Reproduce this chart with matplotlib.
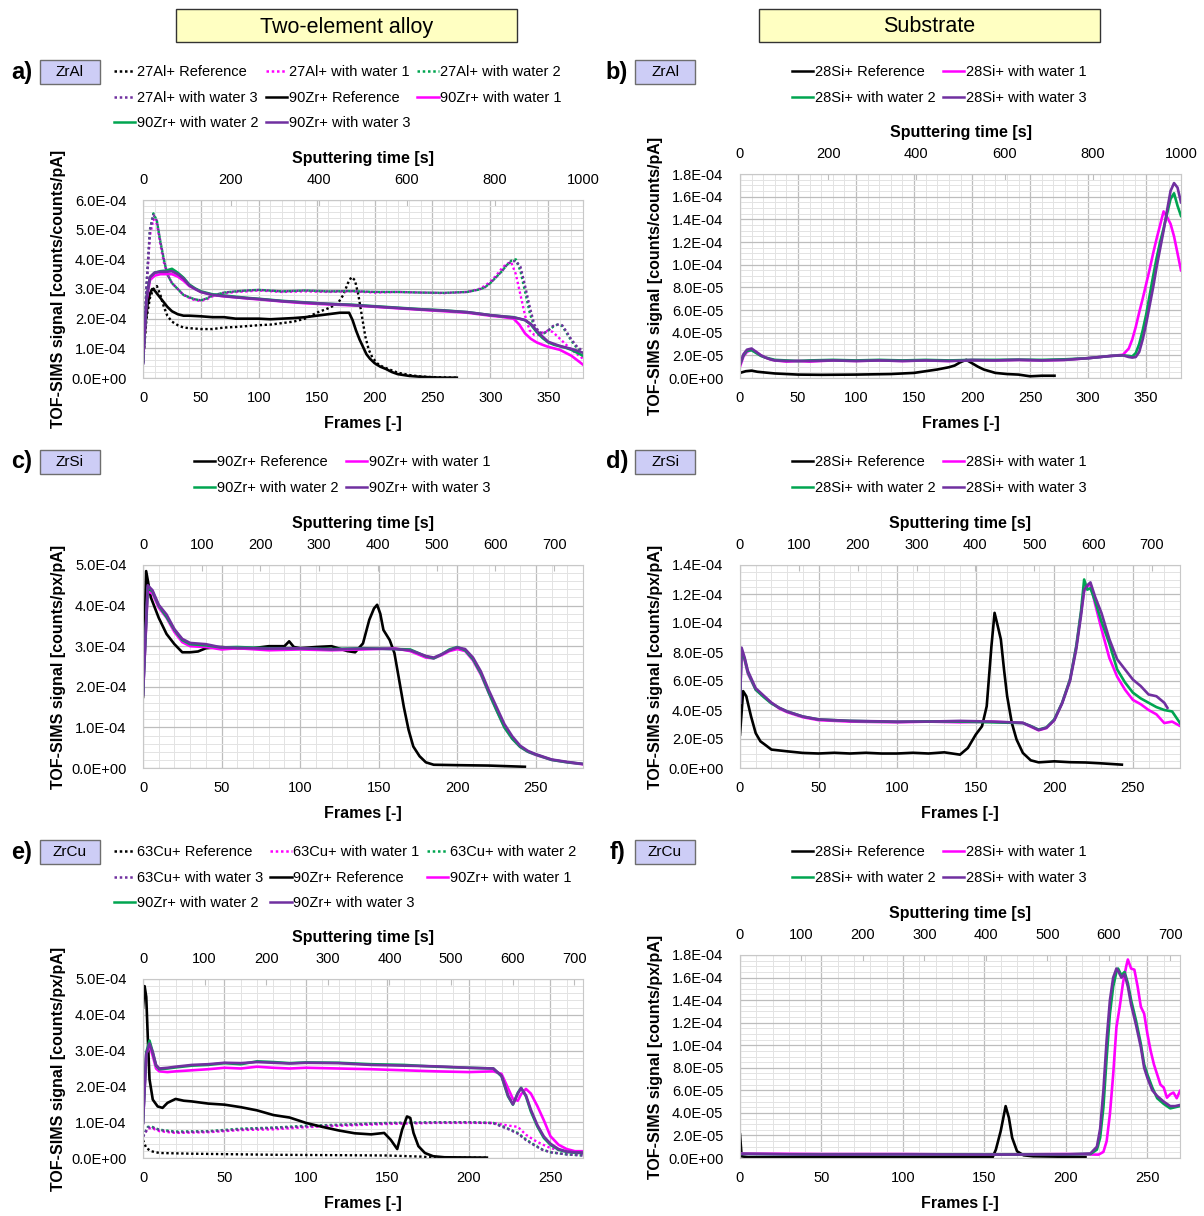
import matplotlib
matplotlib.use("Agg")
import matplotlib.pyplot as plt
from matplotlib.lines import Line2D
from matplotlib.patches import Rectangle
from matplotlib.ticker import MultipleLocator, FuncFormatter, FixedLocator
from matplotlib import font_manager

# ======================= DATA =======================
# Panel a (ZrAl, two-element alloy), signal in 1e-4 counts/counts/pA
A_ZR_REF_X = [0,2,4,6,8,10,12,15,18,21,25,30,35,40,50,60,70,80,90,100,110,120,130,140,150,160,170,178,181,184,187,190,193,196,200,205,210,215,220,230,240,250,260,271]
A_ZR_REF_Y = [0.6,1.8,2.5,2.85,3.0,2.95,2.85,2.7,2.55,2.4,2.25,2.15,2.1,2.1,2.08,2.05,2.05,2.0,2.0,2.0,1.98,2.0,2.02,2.05,2.1,2.15,2.2,2.2,1.95,1.6,1.3,1.05,0.8,0.65,0.5,0.38,0.3,0.2,0.13,0.07,0.04,0.02,0.01,0.01]
A_AL_REF_X = [0,3,6,9,12,15,18,21,25,30,35,40,50,60,70,80,90,100,110,120,130,140,150,160,168,173,177,180,183,186,189,192,195,198,202,207,212,220,230,240,250,260,271]
A_AL_REF_Y = [0.5,2.0,2.7,3.0,3.1,2.8,2.4,2.1,1.9,1.78,1.7,1.68,1.65,1.65,1.7,1.72,1.75,1.78,1.8,1.85,1.9,2.0,2.2,2.35,2.5,2.8,3.2,3.4,3.3,2.8,2.1,1.4,0.95,0.7,0.5,0.38,0.3,0.18,0.1,0.05,0.03,0.02,0.01]
A_AL_W_X = [0,3,6,9,12,15,18,21,25,30,35,40,45,50,55,60,70,80,90,100,120,140,160,180,200,220,240,260,280,290,295,300,305,310,314,318,322,326,330,334,338,342,346,350,354,358,362,366,370,375,380]
A_AL_W1_Y = [0.5,3.0,4.8,5.35,5.2,4.5,3.9,3.5,3.2,3.0,2.8,2.7,2.62,2.6,2.65,2.75,2.85,2.9,2.92,2.95,2.9,2.92,2.9,2.92,2.88,2.9,2.88,2.86,2.9,3.0,3.1,3.25,3.45,3.7,3.85,3.9,3.5,2.8,2.1,1.6,1.45,1.45,1.55,1.6,1.55,1.4,1.25,1.1,0.95,0.8,0.65]
A_AL_W2_Y = [0.5,3.1,5.0,5.55,5.3,4.6,4.0,3.5,3.2,3.0,2.8,2.72,2.65,2.62,2.68,2.78,2.88,2.92,2.95,2.97,2.92,2.95,2.92,2.93,2.9,2.9,2.88,2.87,2.9,2.98,3.05,3.2,3.4,3.6,3.8,3.95,4.0,3.6,2.9,2.2,1.7,1.5,1.5,1.6,1.72,1.8,1.75,1.5,1.25,1.0,0.85]
A_AL_W3_Y = [0.5,3.1,5.0,5.5,5.3,4.6,4.0,3.5,3.2,3.0,2.8,2.72,2.65,2.62,2.68,2.78,2.88,2.92,2.95,2.97,2.92,2.95,2.92,2.93,2.9,2.9,2.88,2.87,2.9,2.98,3.05,3.2,3.4,3.6,3.8,3.92,3.95,3.75,3.1,2.4,1.8,1.55,1.5,1.6,1.75,1.8,1.78,1.55,1.3,1.05,0.9]
A_ZR_W_X = [0,3,6,10,15,20,25,30,35,40,45,50,60,70,80,90,100,120,140,160,180,200,220,240,260,280,300,310,320,325,330,335,340,345,350,355,360,365,370,375,380]
A_ZR_W1_Y = [0.5,2.6,3.3,3.45,3.5,3.5,3.5,3.42,3.28,3.1,3.0,2.9,2.8,2.75,2.72,2.68,2.65,2.58,2.52,2.48,2.45,2.4,2.35,2.3,2.25,2.2,2.1,2.06,2.0,1.8,1.5,1.32,1.2,1.12,1.05,1.0,0.95,0.85,0.75,0.6,0.45]
A_ZR_W2_Y = [0.5,2.7,3.4,3.55,3.6,3.62,3.68,3.55,3.38,3.15,3.02,2.92,2.82,2.78,2.74,2.7,2.67,2.6,2.55,2.5,2.47,2.42,2.37,2.32,2.28,2.22,2.12,2.08,2.05,2.0,1.95,1.8,1.55,1.35,1.2,1.12,1.07,1.02,0.95,0.85,0.75]
A_ZR_W3_Y = [0.5,2.7,3.4,3.55,3.58,3.58,3.6,3.5,3.35,3.12,3.0,2.9,2.8,2.76,2.72,2.69,2.66,2.59,2.54,2.5,2.46,2.41,2.36,2.31,2.27,2.22,2.12,2.08,2.04,2.0,1.95,1.82,1.6,1.4,1.22,1.15,1.08,1.03,0.98,0.92,0.85]

# Panel b (ZrAl, substrate), 1e-5
B_REF_X = [0,5,10,15,20,30,50,70,100,130,150,160,170,180,185,190,195,200,205,210,220,230,240,250,260,271]
B_REF_Y = [0.45,0.6,0.65,0.55,0.5,0.4,0.3,0.28,0.3,0.35,0.45,0.6,0.75,0.95,1.1,1.4,1.6,1.3,1.0,0.75,0.45,0.35,0.3,0.15,0.2,0.2]
B_W_X = [0,3,6,10,14,18,22,26,30,40,50,60,80,100,120,140,160,180,200,220,240,260,280,300,310,320,330,335,338,341,344,347,350,353,356,359,362,365,368,371,374,377,380]
B_W1_Y = [1.0,1.9,2.3,2.5,2.3,2.0,1.8,1.65,1.55,1.45,1.5,1.45,1.55,1.5,1.55,1.5,1.55,1.5,1.6,1.55,1.6,1.55,1.6,1.75,1.85,1.95,2.05,2.6,3.4,4.5,5.8,7.0,8.3,9.6,11.0,12.3,13.5,14.7,14.2,13.6,12.5,11.0,9.5]
B_W2_Y = [1.2,2.0,2.4,2.45,2.2,1.95,1.8,1.7,1.6,1.55,1.5,1.55,1.6,1.55,1.6,1.55,1.6,1.55,1.6,1.6,1.62,1.6,1.65,1.75,1.85,1.95,2.0,1.95,1.9,2.2,3.0,4.2,5.6,7.3,9.0,10.6,12.0,13.2,14.5,15.8,16.3,15.2,14.3]
B_W3_Y = [1.2,2.1,2.5,2.6,2.3,2.0,1.8,1.65,1.55,1.5,1.5,1.5,1.55,1.5,1.55,1.5,1.55,1.5,1.55,1.55,1.6,1.55,1.6,1.75,1.85,1.95,2.0,1.85,1.8,1.85,2.3,3.4,4.8,6.4,8.0,9.8,11.4,13.0,14.8,16.5,17.2,16.8,15.5]

# Panel c (ZrSi, alloy), 1e-4
C_REF_X = [0,2,5,10,15,20,25,30,35,40,50,60,70,80,90,93,96,100,110,120,130,135,140,144,147,149,151,153,157,160,163,166,169,172,176,180,185,200,220,243]
C_REF_Y = [1.75,4.85,4.2,3.7,3.3,3.05,2.85,2.85,2.87,2.95,2.98,2.95,2.95,3.0,3.0,3.12,2.98,2.95,2.98,3.0,2.88,2.85,3.07,3.65,3.93,4.02,3.8,3.4,3.15,2.83,2.17,1.5,0.94,0.53,0.29,0.14,0.08,0.07,0.06,0.03]
C_W_X = [0,3,6,10,15,20,25,30,40,50,60,80,100,120,140,160,170,180,185,190,195,200,205,210,215,220,225,230,235,240,245,250,260,270,280]
C_W1_Y = [1.8,4.35,4.3,3.95,3.7,3.35,3.1,3.0,2.98,2.92,2.95,2.9,2.92,2.9,2.92,2.95,2.88,2.72,2.7,2.78,2.88,2.93,2.88,2.65,2.3,1.85,1.42,1.0,0.72,0.52,0.4,0.32,0.2,0.14,0.09]
C_W2_Y = [1.8,4.45,4.35,4.0,3.72,3.4,3.15,3.05,3.02,2.97,2.98,2.95,2.95,2.93,2.95,2.93,2.92,2.75,2.7,2.8,2.92,2.98,2.9,2.68,2.33,1.86,1.42,1.0,0.72,0.52,0.4,0.33,0.2,0.14,0.1]
C_W3_Y = [1.8,4.5,4.38,4.02,3.78,3.42,3.18,3.08,3.05,2.97,2.96,2.94,2.95,2.92,2.94,2.93,2.9,2.76,2.72,2.8,2.9,2.97,2.93,2.72,2.38,1.92,1.5,1.08,0.78,0.55,0.42,0.34,0.21,0.15,0.1]

# Panel d (ZrSi, substrate), 1e-5
D_REF_X = [0,2,4,7,10,13,16,20,30,40,50,60,70,80,90,100,110,120,130,140,145,150,154,157,160,162,164,166,168,170,173,176,180,185,190,200,210,220,230,243]
D_REF_Y = [2.3,5.3,4.95,3.57,2.4,1.84,1.6,1.27,1.15,1.04,1.0,1.05,1.0,1.05,1.0,1.0,1.05,1.0,1.08,0.92,1.38,2.3,2.88,4.26,8.4,10.7,9.8,8.87,6.8,4.95,3.1,1.96,1.04,0.53,0.39,0.46,0.4,0.38,0.32,0.23]
D_W_X = [0,1,3,5,10,15,20,25,30,40,50,70,100,120,140,160,180,185,190,195,200,205,210,214,217,219,221,223,226,230,235,240,245,250,255,260,265,270,275,280]
D_W1_Y = [4.5,8.0,7.4,6.5,5.4,4.95,4.5,4.1,3.85,3.5,3.3,3.2,3.15,3.2,3.15,3.2,3.1,2.85,2.6,2.75,3.3,4.5,6.1,8.4,10.7,12.2,12.5,12.7,11.3,9.6,7.6,6.3,5.4,4.7,4.4,4.0,3.7,3.1,3.2,2.9]
D_W2_Y = [4.5,8.1,7.5,6.6,5.4,4.9,4.45,4.15,3.9,3.55,3.35,3.25,3.18,3.22,3.2,3.15,3.1,2.9,2.65,2.8,3.35,4.5,6.1,8.4,10.8,13.0,12.3,12.4,11.5,10.1,8.6,6.8,5.9,5.2,4.8,4.5,4.2,4.0,3.9,3.1]
D_W3_X = [0,1,3,5,10,15,20,25,30,40,50,70,100,120,140,160,180,185,190,195,200,205,210,214,217,219,221,223,226,230,235,240,245,250,255,260,265,270,272]
D_W3_Y = [4.5,8.3,7.6,6.7,5.5,5.0,4.5,4.15,3.9,3.55,3.35,3.25,3.2,3.2,3.25,3.2,3.12,2.88,2.62,2.78,3.3,4.45,6.0,8.2,10.5,12.3,12.6,12.8,11.8,10.7,8.9,7.5,6.8,6.1,5.65,5.07,4.95,4.5,4.15]

# Panel e (ZrCu, alloy), 1e-4
E_ZR_REF_X = [0,1,2,3,4,6,9,12,15,20,25,30,40,50,60,70,80,90,100,110,120,130,140,148,152,156,159,162,164,166,169,173,178,185,211]
E_ZR_REF_Y = [4.2,4.8,4.5,3.3,2.2,1.63,1.44,1.4,1.54,1.65,1.6,1.58,1.52,1.49,1.42,1.33,1.2,1.13,0.98,0.87,0.77,0.69,0.66,0.7,0.51,0.25,0.79,1.16,1.12,0.7,0.33,0.14,0.05,0.02,0.01]
E_CU_REF_X = [0,2,5,10,30,80,150,170,180,211]
E_CU_REF_Y = [0.5,0.28,0.19,0.14,0.12,0.09,0.07,0.04,0.01,0.01]
E_ZR_W_X = [0,2,4,6,8,10,15,20,30,40,50,60,70,80,90,100,120,140,160,180,200,215,220,224,227,230,232,235,238,242,246,250,255,260,265,270]
E_ZR_W1_Y = [0.98,2.9,3.15,2.85,2.5,2.42,2.4,2.42,2.45,2.48,2.52,2.5,2.55,2.52,2.5,2.52,2.5,2.48,2.45,2.42,2.4,2.42,2.35,1.95,1.65,1.6,1.78,1.93,1.8,1.45,1.05,0.61,0.37,0.25,0.19,0.19]
E_ZR_W2_Y = [0.98,2.95,3.28,2.95,2.58,2.48,2.5,2.53,2.58,2.6,2.65,2.62,2.7,2.68,2.65,2.67,2.66,2.62,2.6,2.55,2.52,2.5,2.28,1.72,1.49,1.82,1.96,1.72,1.3,0.88,0.56,0.37,0.23,0.17,0.15,0.14]
E_ZR_W3_Y = [0.98,2.9,3.2,2.95,2.6,2.5,2.52,2.55,2.6,2.62,2.66,2.65,2.68,2.66,2.64,2.66,2.65,2.6,2.58,2.56,2.52,2.5,2.3,1.75,1.5,1.8,1.95,1.75,1.35,0.92,0.6,0.4,0.25,0.18,0.16,0.15]
E_CU_W_X = [0,3,5,10,20,40,60,80,100,120,150,180,200,215,220,225,230,235,240,245,250,260,270]
E_CU_W1_Y = [0.6,0.82,0.84,0.75,0.7,0.72,0.78,0.8,0.86,0.9,0.95,0.98,0.98,0.98,0.94,0.9,0.87,0.65,0.5,0.38,0.28,0.17,0.12]
E_CU_W2_Y = [0.6,0.87,0.88,0.79,0.74,0.75,0.82,0.85,0.9,0.93,0.98,1.0,1.0,0.98,0.9,0.8,0.7,0.52,0.37,0.24,0.16,0.1,0.07]
E_CU_W3_Y = [0.6,0.85,0.87,0.78,0.72,0.74,0.8,0.84,0.88,0.92,0.97,0.99,1.0,0.97,0.88,0.79,0.68,0.5,0.36,0.23,0.16,0.1,0.07]

# Panel f (ZrCu, substrate), 1e-5
F_REF_X = [0,1,5,100,155,157,160,163,165,167,170,174,180,212]
F_REF_Y = [2.1,0.15,0.06,0.06,0.06,0.74,2.4,4.6,3.57,1.8,0.6,0.24,0.15,0.08]
F_W_X = [0,50,100,150,200,215,219,221,223,225,227,229,231,232,234,236,238,240,243,246,248,250,253,256,260,264,267,270]
F_W2_Y = [0.36,0.3,0.32,0.3,0.32,0.35,0.74,1.8,4.5,8.9,12.8,15.2,16.5,16.8,16.2,16.5,15.5,14.0,12.2,10.1,8.3,7.4,6.25,5.3,4.8,4.4,4.5,4.6]
F_W3_Y = [0.36,0.3,0.32,0.3,0.32,0.4,1.0,2.6,6.0,10.5,14.0,16.0,16.8,16.6,16.0,16.3,15.2,13.6,11.8,9.8,8.0,7.1,6.0,5.5,5.0,4.6,4.6,4.7]
F_W1_X = [0,50,100,150,200,220,223,225,227,229,231,233,235,237,238,240,242,244,246,248,250,252,254,256,258,260,262,264,266,268,270]
F_W1_Y = [0.4,0.35,0.35,0.3,0.35,0.3,0.54,1.5,3.9,7.4,11.6,13.4,15.5,17.0,17.6,16.8,16.7,15.2,13.4,12.8,11.0,9.5,8.3,7.4,6.5,6.25,5.35,5.65,5.8,5.3,5.95]

# Text
HEADERS = ["Two-element alloy", "Substrate"]
PANEL_TAGS = ["a)", "b)", "c)", "d)", "e)", "f)"]
SAMPLES = ["ZrAl", "ZrAl", "ZrSi", "ZrSi", "ZrCu", "ZrCu"]
WATER = ["Reference", "with water 1", "with water 2", "with water 3"]

# ======================= STYLE =======================
names = {f.name for f in font_manager.fontManager.ttflist}
FONT = "Liberation Sans Narrow" if "Liberation Sans Narrow" in names else "Liberation Sans"
plt.rcParams["font.family"] = [FONT, "DejaVu Sans"]

COLS = ["#000000", "#FF00FF", "#00A550", "#7030A0"]
LW = 1.9
DOT = (0, (1, 1.1))
TICK_FS = 10.5
LAB_FS = 11.5

W, H = 1204, 1216
fig = plt.figure(figsize=(W / 100, H / 100), dpi=100)


def fx(x):
    return x / W


def fy(y):
    return 1 - y / H


def make_axes(box, xmax, ymax, ymajor, yminor, factor, smax, sstep, ylabel):
    l, t, r, b = box
    ax = fig.add_axes([fx(l), fy(b), fx(r) - fx(l), fy(t) - fy(b)])
    ax.set_xlim(0, xmax)
    ax.set_ylim(0, ymax)
    ax.xaxis.set_major_locator(MultipleLocator(50))
    ax.xaxis.set_minor_locator(MultipleLocator(10))
    ax.yaxis.set_major_locator(MultipleLocator(ymajor))
    ax.yaxis.set_minor_locator(MultipleLocator(yminor))
    ax.yaxis.set_major_formatter(FuncFormatter(lambda v, p: f"{v:.1E}"))
    ax.grid(which="major", color="#BDBDBD", lw=0.9)
    ax.grid(which="minor", color="#E3E3E3", lw=0.7)
    ax.set_axisbelow(True)
    for s in ax.spines.values():
        s.set_color("#C8C8C8")
        s.set_linewidth(0.8)
    ax.tick_params(which="both", length=0, labelsize=TICK_FS, pad=9)
    ax.tick_params(axis="y", pad=12)
    ax.set_xlabel("Frames [-]", fontsize=LAB_FS, fontweight="bold")
    ax.xaxis.set_label_coords(fx((l + r) / 2), fy(b + 38), transform=fig.transFigure)
    ax.set_ylabel(ylabel, fontsize=LAB_FS, fontweight="bold")
    ax.yaxis.set_label_coords(fx(l - 77), fy((t + b) / 2), transform=fig.transFigure)
    sec = ax.secondary_xaxis("top", functions=(lambda f: f * factor, lambda s: s / factor))
    sec.xaxis.set_major_locator(FixedLocator(list(range(0, smax + 1, sstep))))
    sec.tick_params(length=4, direction="in", color="#BDBDBD", labelsize=TICK_FS, pad=9)
    sec.spines["top"].set_visible(False)
    sec.set_xlabel("Sputtering time [s]", fontsize=LAB_FS, fontweight="bold")
    sec.xaxis.set_label_coords(fx((l + r) / 2), fy(t - 37), transform=fig.transFigure)
    return ax


def plot(ax, x, y, unit, color, ls="-"):
    ax.plot(x, [v * unit for v in y], color=color, lw=LW if ls == "-" else 1.7, ls=ls,
            solid_joinstyle="round")


def legend(labels_styles, anchor, ncol):
    handles = [Line2D([], [], color=c, ls=s, lw=1.8) for (_, c, s) in labels_styles]
    labels = [t for (t, _, _) in labels_styles]
    nrow = -(-len(handles) // ncol)
    order = []
    for cidx in range(ncol):
        for ridx in range(nrow):
            k = ridx * ncol + cidx
            if k < len(handles):
                order.append(k)
    fig.legend([handles[k] for k in order], [labels[k] for k in order], loc="upper left",
               bbox_to_anchor=(fx(anchor[0]), fy(anchor[1])), ncol=ncol, frameon=False,
               fontsize=10.5, handlelength=1.45, handletextpad=0.12, columnspacing=0.5,
               labelspacing=0.8, borderpad=0, borderaxespad=0)


def tag(x, y, letter, sample):
    fig.text(fx(x), fy(y), letter, fontsize=17, fontweight="bold", ha="center", va="center")
    bx = x + 18
    fig.add_artist(Rectangle((fx(bx), fy(y + 12)), fx(60), 24 / H, transform=fig.transFigure,
                             facecolor="#CDCDF6", edgecolor="#6E6E6E", lw=1.0))
    fig.text(fx(bx + 30), fy(y), sample, fontsize=11, ha="center", va="center")


# Headers
for (x0, x1), txt in zip([(176, 517), (759, 1100)], HEADERS):
    fig.add_artist(Rectangle((fx(x0), fy(42)), fx(x1 - x0), 33 / H, transform=fig.transFigure,
                             facecolor="#FFFFC2", edgecolor="#333333", lw=1.0))
    fig.text(fx((x0 + x1) / 2), fy(27), txt, fontsize=15.5, ha="center", va="center")

YL_A = "TOF-SIMS signal [counts/counts/pA]"
YL_C = "TOF-SIMS signal [counts/px/pA]"
U4, U5 = 1e-4, 1e-5

# ---------------- panel a
ax = make_axes((143, 200, 583, 378), 380, 6e-4, 1e-4, 2e-5, 1000 / 380, 1000, 200, YL_A)
plot(ax, A_AL_REF_X, A_AL_REF_Y, U4, COLS[0], DOT)
plot(ax, A_AL_W_X, A_AL_W1_Y, U4, COLS[1], DOT)
plot(ax, A_AL_W_X, A_AL_W2_Y, U4, COLS[2], DOT)
plot(ax, A_AL_W_X, A_AL_W3_Y, U4, COLS[3], DOT)
plot(ax, A_ZR_REF_X, A_ZR_REF_Y, U4, COLS[0])
plot(ax, A_ZR_W_X, A_ZR_W1_Y, U4, COLS[1])
plot(ax, A_ZR_W_X, A_ZR_W2_Y, U4, COLS[2])
plot(ax, A_ZR_W_X, A_ZR_W3_Y, U4, COLS[3])
tag(22, 72, PANEL_TAGS[0], SAMPLES[0])
legend([(f"27Al+ {w}", c, DOT) for w, c in zip(WATER, COLS)] +
       [(f"90Zr+ {w}", c, "-") for w, c in zip(WATER, COLS)], (114, 65), 3)

# ---------------- panel b
ax = make_axes((740, 174, 1181, 378), 380, 1.8e-4, 2e-5, 5e-6, 1000 / 380, 1000, 200, YL_A)
plot(ax, B_REF_X, B_REF_Y, U5, COLS[0])
plot(ax, B_W_X, B_W1_Y, U5, COLS[1])
plot(ax, B_W_X, B_W2_Y, U5, COLS[2])
plot(ax, B_W_X, B_W3_Y, U5, COLS[3])
tag(617, 72, PANEL_TAGS[1], SAMPLES[1])
legend([(f"28Si+ {w}", c, "-") for w, c in zip(WATER, COLS)], (792, 65), 2)

# ---------------- panel c
ax = make_axes((143, 565, 583, 768), 280, 5e-4, 1e-4, 2e-5, 2.675, 700, 100, YL_C)
plot(ax, C_REF_X, C_REF_Y, U4, COLS[0])
plot(ax, C_W_X, C_W1_Y, U4, COLS[1])
plot(ax, C_W_X, C_W2_Y, U4, COLS[2])
plot(ax, C_W_X, C_W3_Y, U4, COLS[3])
tag(22, 462, PANEL_TAGS[2], SAMPLES[2])
legend([(f"90Zr+ {w}", c, "-") for w, c in zip(WATER, COLS)], (194, 455), 2)

# ---------------- panel d
ax = make_axes((740, 565, 1180, 768), 280, 1.4e-4, 2e-5, 5e-6, 2.67, 700, 100, YL_C)
plot(ax, D_REF_X, D_REF_Y, U5, COLS[0])
plot(ax, D_W_X, D_W1_Y, U5, COLS[1])
plot(ax, D_W_X, D_W2_Y, U5, COLS[2])
plot(ax, D_W3_X, D_W3_Y, U5, COLS[3])
tag(617, 462, PANEL_TAGS[3], SAMPLES[3])
legend([(f"28Si+ {w}", c, "-") for w, c in zip(WATER, COLS)], (792, 455), 2)

# ---------------- panel e
ax = make_axes((143, 979, 583, 1158), 270, 5e-4, 1e-4, 2e-5, 2.645, 700, 100, YL_C)
plot(ax, E_CU_REF_X, E_CU_REF_Y, U4, COLS[0], DOT)
plot(ax, E_CU_W_X, E_CU_W1_Y, U4, COLS[1], DOT)
plot(ax, E_CU_W_X, E_CU_W2_Y, U4, COLS[2], DOT)
plot(ax, E_CU_W_X, E_CU_W3_Y, U4, COLS[3], DOT)
plot(ax, E_ZR_REF_X, E_ZR_REF_Y, U4, COLS[0])
plot(ax, E_ZR_W_X, E_ZR_W1_Y, U4, COLS[1])
plot(ax, E_ZR_W_X, E_ZR_W2_Y, U4, COLS[2])
plot(ax, E_ZR_W_X, E_ZR_W3_Y, U4, COLS[3])
tag(22, 852, PANEL_TAGS[4], SAMPLES[4])
legend([(f"63Cu+ {w}", c, DOT) for w, c in zip(WATER, COLS)] +
       [(f"90Zr+ {w}", c, "-") for w, c in zip(WATER, COLS)], (114, 845), 3)

# ---------------- panel f
ax = make_axes((740, 955, 1180, 1158), 270, 1.8e-4, 2e-5, 5e-6, 2.65, 700, 100, YL_C)
plot(ax, F_REF_X, F_REF_Y, U5, COLS[0])
plot(ax, F_W1_X, F_W1_Y, U5, COLS[1])
plot(ax, F_W_X, F_W2_Y, U5, COLS[2])
plot(ax, F_W_X, F_W3_Y, U5, COLS[3])
tag(617, 852, PANEL_TAGS[5], SAMPLES[5])
legend([(f"28Si+ {w}", c, "-") for w, c in zip(WATER, COLS)], (792, 845), 2)

fig.savefig("out.png", dpi=100)
